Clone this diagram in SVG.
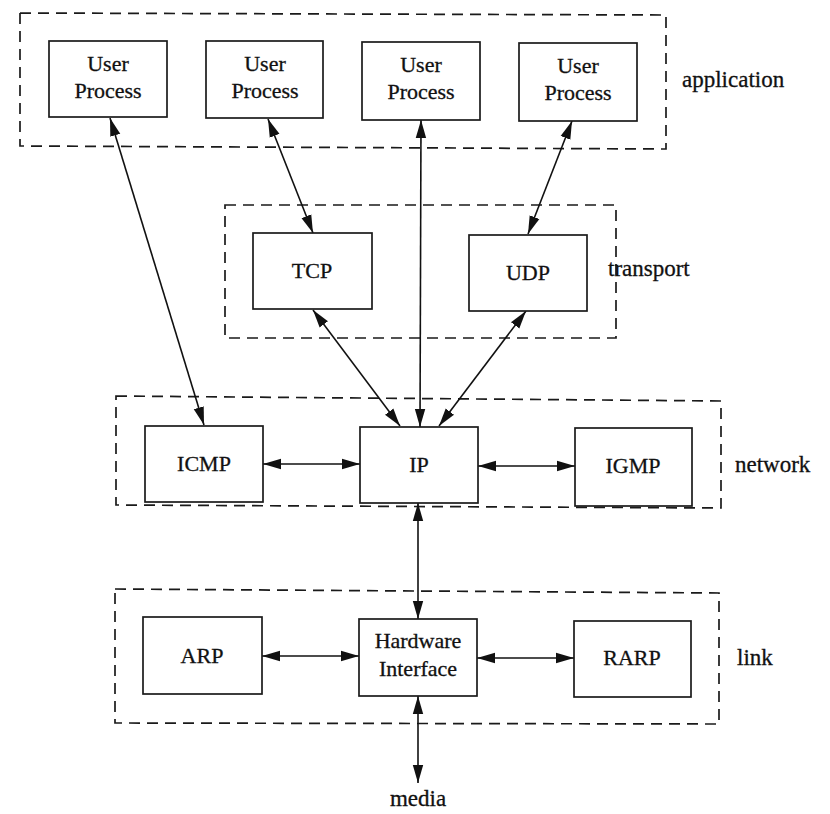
<svg xmlns="http://www.w3.org/2000/svg" width="830" height="814" viewBox="0 0 830 814">
<style>
.layer{fill:none;stroke:#1a1a1a;stroke-width:1.7;stroke-dasharray:11 7}
.box{fill:#fff;stroke:#1a1a1a;stroke-width:1.7}
text{font-family:"Liberation Serif","Times New Roman",serif;font-size:22px;fill:#111;stroke:#111;stroke-width:0.3}
.t{text-anchor:middle}
.lbl{font-size:23px}
.c{stroke:#111;stroke-width:1.6;fill:none;marker-start:url(#ah);marker-end:url(#ah)}
</style>
<defs>
<marker id="ah" viewBox="0 0 18 12" refX="18" refY="6" markerWidth="18" markerHeight="12" markerUnits="userSpaceOnUse" orient="auto-start-reverse">
<path d="M0,0.8 L18,6 L0,11.2 z" fill="#111"/>
</marker>
</defs>
<g id="layer-application"><path class="layer" d="M20,13 L666,15 L666,149 L20,146 Z"/><text class="lbl" x="682" y="87">application</text></g>
<g id="layer-transport"><rect class="layer" x="225" y="205" width="391" height="133"/><text class="lbl" x="608" y="276">transport</text></g>
<g id="layer-network"><path class="layer" d="M116,396 L721,401 L721,508 L116,505 Z"/><text class="lbl" x="735" y="472">network</text></g>
<g id="layer-link"><path class="layer" d="M115,589 L719,593 L719,724 L115,723 Z"/><text class="lbl" x="737" y="665">link</text></g>
<g id="connectors">
<line class="c" x1="110" y1="118" x2="204" y2="425"/>
<line class="c" x1="268" y1="119" x2="313" y2="233"/>
<line class="c" x1="421" y1="120" x2="420" y2="427"/>
<line class="c" x1="572" y1="121" x2="528" y2="234"/>
<line class="c" x1="313" y1="310" x2="400" y2="426"/>
<line class="c" x1="526" y1="311" x2="439" y2="426"/>
<line class="c" x1="263" y1="464" x2="360" y2="464"/>
<line class="c" x1="478" y1="466" x2="575" y2="466"/>
<line class="c" x1="418" y1="503" x2="418" y2="619"/>
<line class="c" x1="262" y1="656" x2="359" y2="656"/>
<line class="c" x1="477" y1="658" x2="574" y2="658"/>
<line class="c" x1="418" y1="696" x2="418" y2="783"/>
</g>
<g id="up1"><rect class="box" x="49" y="41" width="118" height="76"/><text class="t" x="108" y="71">User</text><text class="t" x="108" y="98">Process</text></g>
<g id="up2"><rect class="box" x="206" y="41" width="117" height="77"/><text class="t" x="265" y="71">User</text><text class="t" x="265" y="98">Process</text></g>
<g id="up3"><rect class="box" x="362" y="42" width="118" height="78"/><text class="t" x="421" y="72">User</text><text class="t" x="421" y="99">Process</text></g>
<g id="up4"><rect class="box" x="519" y="43" width="118" height="78"/><text class="t" x="578" y="73">User</text><text class="t" x="578" y="100">Process</text></g>
<g id="tcp"><rect class="box" x="253" y="233" width="119" height="76"/><text class="t" x="312" y="278">TCP</text></g>
<g id="udp"><rect class="box" x="469" y="235" width="118" height="76"/><text class="t" x="528" y="280">UDP</text></g>
<g id="icmp"><rect class="box" x="145" y="426" width="118" height="76"/><text class="t" x="204" y="471">ICMP</text></g>
<g id="ip"><rect class="box" x="360" y="427" width="118" height="76"/><text class="t" x="419" y="472">IP</text></g>
<g id="igmp"><rect class="box" x="575" y="428" width="117" height="78"/><text class="t" x="633" y="473">IGMP</text></g>
<g id="arp"><rect class="box" x="143" y="617" width="119" height="77"/><text class="t" x="202" y="663">ARP</text></g>
<g id="hw"><rect class="box" x="359" y="619" width="118" height="77"/><text class="t" x="418" y="648">Hardware</text><text class="t" x="418" y="676">Interface</text></g>
<g id="rarp"><rect class="box" x="574" y="621" width="117" height="76"/><text class="t" x="632" y="665">RARP</text></g>
<g id="media"><text class="t lbl" x="418" y="806">media</text></g>
</svg>
